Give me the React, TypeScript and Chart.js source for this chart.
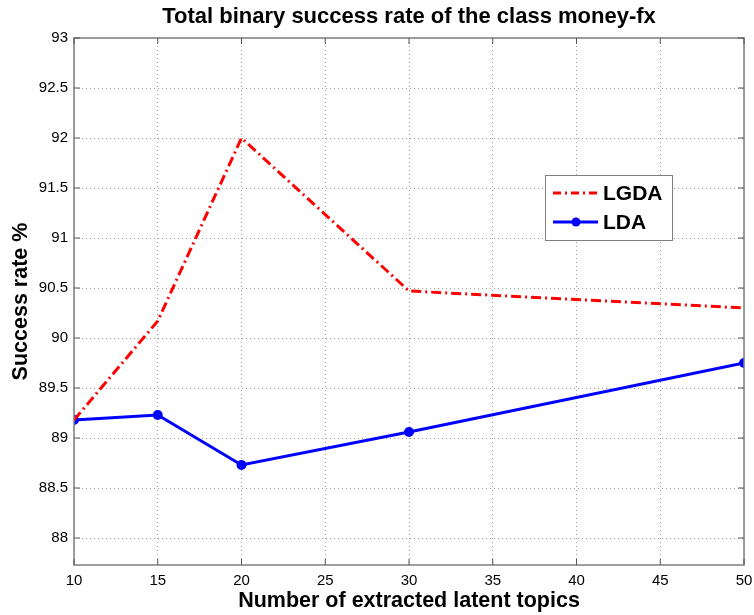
import React, { useEffect, useRef } from "react";
import { Chart, registerables } from "chart.js";

Chart.register(...registerables);

const topics = [10, 15, 20, 30, 50];
const lgda = [89.18, 90.17, 92.0, 90.47, 90.3];
const lda = [89.18, 89.23, 88.73, 89.06, 89.75];
const xTicks = [10, 15, 20, 25, 30, 35, 40, 45, 50];
const yTicks = [88, 88.5, 89, 89.5, 90, 90.5, 91, 91.5, 92, 92.5, 93];

const titleText = "Total binary success rate of the class money-fx";
const xTitle = "Number of extracted latent topics";
const yTitle = "Success rate %";

const FONT = "'Liberation Sans', Arial, sans-serif";

const decorPlugin = {
  id: "decor",
  afterDatasetsDraw(chart: any) {
    const { ctx, chartArea } = chart;
    const { left, right, top, bottom } = chartArea;
    const xs = chart.scales.x;
    const ys = chart.scales.y;
    ctx.save();
    // frame
    ctx.strokeStyle = "#7f7f7f";
    ctx.lineWidth = 1.5;
    ctx.setLineDash([]);
    ctx.strokeRect(left, top, right - left, bottom - top);
    // inner ticks
    ctx.lineWidth = 1;
    ctx.strokeStyle = "#555";
    ctx.beginPath();
    xTicks.forEach((t) => {
      const px = xs.getPixelForValue(t);
      ctx.moveTo(px, bottom);
      ctx.lineTo(px, bottom - 6);
      ctx.moveTo(px, top);
      ctx.lineTo(px, top + 6);
    });
    yTicks.forEach((t) => {
      const py = ys.getPixelForValue(t);
      ctx.moveTo(left, py);
      ctx.lineTo(left + 6, py);
      ctx.moveTo(right, py);
      ctx.lineTo(right - 6, py);
    });
    ctx.stroke();

    // legend
    const bx = 545, by = 175, bw = 127, bh = 65;
    ctx.fillStyle = "#fff";
    ctx.fillRect(bx, by, bw, bh);
    ctx.strokeStyle = "#7f7f7f";
    ctx.lineWidth = 1;
    ctx.strokeRect(bx + 0.5, by + 0.5, bw, bh);
    const y1 = by + 18, y2 = by + 47;
    ctx.lineWidth = 3;
    ctx.strokeStyle = "#ff0000";
    ctx.setLineDash([8, 4, 2, 4]);
    ctx.beginPath();
    ctx.moveTo(bx + 8, y1);
    ctx.lineTo(bx + 53, y1);
    ctx.stroke();
    ctx.setLineDash([]);
    ctx.strokeStyle = "#0000ff";
    ctx.beginPath();
    ctx.moveTo(bx + 8, y2);
    ctx.lineTo(bx + 53, y2);
    ctx.stroke();
    ctx.fillStyle = "#0000ff";
    ctx.beginPath();
    ctx.arc(bx + 31, y2, 4.5, 0, Math.PI * 2);
    ctx.fill();
    ctx.fillStyle = "#000";
    ctx.font = `bold 21px ${FONT}`;
    ctx.textBaseline = "middle";
    ctx.textAlign = "left";
    ctx.fillText("LGDA", bx + 58, y1 + 1);
    ctx.fillText("LDA", bx + 58, y2 + 1);

    // titles
    const cx = (left + right) / 2;
    ctx.textAlign = "center";
    ctx.font = `bold 22px ${FONT}`;
    ctx.fillText(titleText, cx, 17);
    ctx.font = `bold 21.5px ${FONT}`;
    ctx.fillText(xTitle, cx, 601);
    ctx.save();
    ctx.translate(21, (top + bottom) / 2);
    ctx.rotate(-Math.PI / 2);
    ctx.font = `bold 21.5px ${FONT}`;
    ctx.fillText(yTitle, 0, 0);
    ctx.restore();
    ctx.restore();
  },
};

export default function App() {
  const ref = useRef<HTMLCanvasElement | null>(null);
  useEffect(() => {
    if (!ref.current) return;
    const chart = new Chart(ref.current, {
      type: "line",
      data: {
        datasets: [
          {
            label: "LGDA",
            data: topics.map((x, i) => ({ x, y: lgda[i] })),
            borderColor: "#ff0000",
            borderWidth: 3,
            borderDash: [10, 4, 2, 4],
            pointRadius: 0,
            fill: false,
            tension: 0,
          },
          {
            label: "LDA",
            data: topics.map((x, i) => ({ x, y: lda[i] })),
            borderColor: "#0000ff",
            backgroundColor: "#0000ff",
            borderWidth: 3,
            pointRadius: 5,
            pointBackgroundColor: "#0000ff",
            pointBorderWidth: 0,
            fill: false,
            tension: 0,
          },
        ],
      },
      options: {
        responsive: false,
        animation: false,
        layout: { padding: { top: 38, right: 10, left: 0, bottom: 0 } },
        plugins: {
          legend: { display: false },
          title: { display: false },
          tooltip: { enabled: false },
        },
        scales: {
          x: {
            type: "linear",
            min: 10,
            max: 50,
            afterBuildTicks: (s: any) => {
              s.ticks = xTicks.map((v) => ({ value: v }));
            },
            afterFit: (s: any) => {
              s.height = 50;
              s.paddingLeft = 0;
              s.paddingRight = 0;
            },
            ticks: {
              color: "#000",
              font: { family: FONT, size: 15 },
              padding: 7,
              maxRotation: 0,
              callback: (v: any) => String(v),
            },
            grid: {
              color: "#a0a0a0",
              lineWidth: 1,
              drawTicks: false,
            },
            border: { display: false, dash: [1, 3] },
          },
          y: {
            type: "linear",
            min: 87.73,
            max: 93,
            afterBuildTicks: (s: any) => {
              s.ticks = yTicks.map((v) => ({ value: v }));
            },
            afterFit: (s: any) => {
              s.width = 74;
              s.paddingTop = 0;
              s.paddingBottom = 0;
            },
            ticks: {
              color: "#000",
              font: { family: FONT, size: 15 },
              padding: 6,
              callback: (v: any) => String(v),
            },
            grid: {
              color: "#a0a0a0",
              lineWidth: 1,
              drawTicks: false,
            },
            border: { display: false, dash: [1, 3] },
          },
        },
      },
      plugins: [decorPlugin],
    });
    return () => chart.destroy();
  }, []);
  return (
    <div style={{ position: "absolute", left: 0, top: 0, width: 754, height: 615, background: "#fff" }}>
      <canvas ref={ref} width={754} height={615} style={{ width: 754, height: 615 }} />
    </div>
  );
}
